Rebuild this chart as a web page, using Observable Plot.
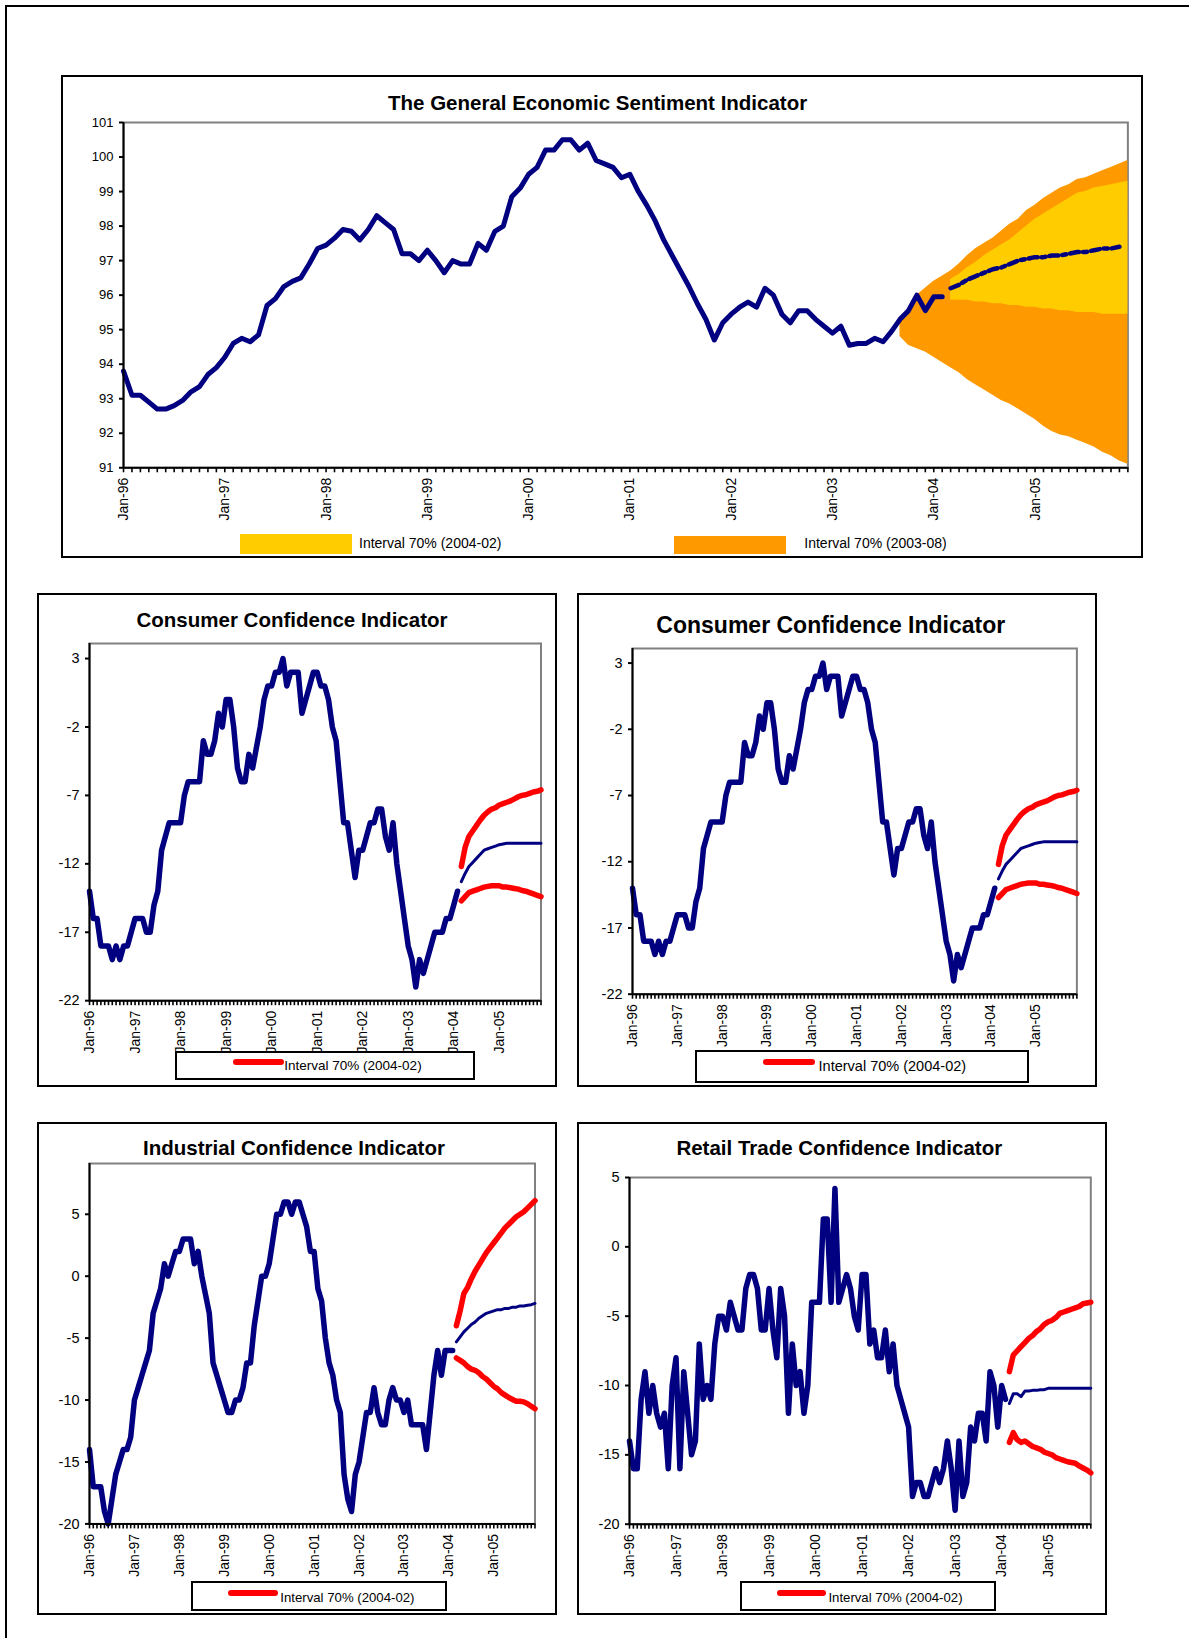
<!DOCTYPE html>
<html><head><meta charset="utf-8">
<script src="https://cdn.jsdelivr.net/npm/d3@7"></script>
<script src="https://cdn.jsdelivr.net/npm/@observablehq/plot@0.6"></script>
<style>
html,body{margin:0;padding:0;background:#fff;}
body{width:1189px;height:1638px;overflow:hidden;position:relative;font-family:"Liberation Sans",Arial,sans-serif;color:#000;}
.box{position:absolute;box-sizing:border-box;border:2px solid #000;background:#fff;}
.title{position:absolute;font-weight:bold;white-space:nowrap;line-height:1;transform:translateX(-50%);}
.lg{position:absolute;white-space:nowrap;line-height:1;}
.sw{position:absolute;}
svg{position:absolute;}
</style></head><body>
<script>
// ---------- categories / tick labels ----------
const yearLabels = ["Jan-96","Jan-97","Jan-98","Jan-99","Jan-00","Jan-01","Jan-02","Jan-03","Jan-04","Jan-05"];
const monthCount = 120;          // Jan-96 .. Dec-05, month index 0..119
const forecastStart = 98;        // Mar-04
const bandAug03Start = 92;       // Sep-03

// ---------- The General Economic Sentiment Indicator ----------
const gesiActual = [
  93.8,93.1,93.1,92.9,92.7,92.7,92.8,92.95,93.2,93.35,93.7,93.9,
  94.2,94.6,94.75,94.65,94.85,95.7,95.9,96.25,96.4,96.5,96.9,97.35,
  97.45,97.65,97.9,97.85,97.6,97.9,98.3,98.1,97.9,97.2,97.2,97.0,
  97.3,97.0,96.65,97.0,96.9,96.9,97.5,97.3,97.85,98.0,98.85,99.1,
  99.5,99.7,100.2,100.2,100.5,100.5,100.2,100.4,99.9,99.8,99.7,99.4,
  99.5,99.0,98.6,98.15,97.6,97.15,96.7,96.25,95.75,95.3,94.7,95.2,
  95.45,95.65,95.8,95.65,96.2,96.0,95.45,95.2,95.55,95.55,95.3,95.1,
  94.9,95.1,94.55,94.6,94.6,94.75,94.65,94.95,95.3,95.55,96.0,95.55,
  95.95,95.95];
const gesiForecast = [96.2,96.3,96.45,96.55,96.65,96.75,96.8,96.9,97.0,97.05,97.1,97.1,97.15,97.15,97.2,97.25,97.25,97.3,97.35,97.35,97.4];
const gesiAug03Upper = [95.3,95.6,96.0,96.2,96.4,96.55,96.7,96.9,97.15,97.35,97.5,97.65,97.85,98.05,98.2,98.45,98.6,98.8,98.95,99.1,99.2,99.35,99.4,99.5,99.6,99.7,99.8,99.9];
const gesiAug03Lower = [94.8,94.55,94.45,94.35,94.2,94.05,93.9,93.75,93.55,93.4,93.25,93.1,92.95,92.85,92.7,92.55,92.4,92.2,92.05,91.95,91.9,91.8,91.7,91.6,91.45,91.35,91.2,91.1];
const gesiFeb04Upper = [96.45,96.6,96.8,96.95,97.15,97.3,97.45,97.6,97.8,98.0,98.2,98.35,98.5,98.65,98.8,98.95,99.0,99.1,99.15,99.2,99.25,99.3];
const gesiFeb04Lower = [95.85,95.85,95.85,95.8,95.8,95.75,95.75,95.7,95.7,95.65,95.65,95.6,95.6,95.55,95.55,95.5,95.5,95.5,95.45,95.45,95.45,95.45];
const gesiTicks = [91,92,93,94,95,96,97,98,99,100,101];

// ---------- Consumer Confidence Indicator ----------
const consumerActual = [
  -14,-16,-16,-18,-18,-18,-19,-18,-19,-18,-18,-17,
  -16,-16,-16,-17,-17,-15,-14,-11,-10,-9,-9,-9,
  -9,-7,-6,-6,-6,-6,-3,-4,-4,-3,-1,-2,
  0,0,-2,-5,-6,-6,-4,-5,-3.5,-2,0,1,
  1,2,2,3,1,2,2,2,-1,0,1,2,
  2,1,1,0,-2,-3,-6,-9,-9,-11,-13,-11,
  -11,-10,-9,-9,-8,-8,-10,-11,-9,-12,-14,-16,
  -18,-19,-21,-19,-20,-19,-18,-17,-17,-17,-16,-16,
  -15,-14];
const consumerForecast = [-13.3,-12.7,-12.2,-11.9,-11.6,-11.3,-11.0,-10.9,-10.8,-10.7,-10.6,-10.55,-10.5,-10.5,-10.5,-10.5,-10.5,-10.5,-10.5,-10.5,-10.5,-10.5];
const consumerUpper = [-12.2,-10.8,-10.0,-9.6,-9.2,-8.8,-8.45,-8.2,-8.0,-7.9,-7.7,-7.6,-7.5,-7.4,-7.25,-7.1,-7.0,-6.95,-6.85,-6.75,-6.7,-6.6];
const consumerLower = [-14.7,-14.4,-14.1,-14.0,-13.9,-13.8,-13.7,-13.65,-13.6,-13.6,-13.6,-13.7,-13.7,-13.75,-13.8,-13.85,-13.95,-14.0,-14.1,-14.2,-14.3,-14.4];
const consumerTicks = [-22,-17,-12,-7,-2,3];

// ---------- Industrial Confidence Indicator ----------
const industrialActual = [
  -14,-17,-17,-17,-19,-20,-18,-16,-15,-14,-14,-13,
  -10,-9,-8,-7,-6,-3,-2,-1,1,0,1,2,
  2,3,3,3,1,2,0,-1.5,-3,-7,-8,-9,
  -10,-11,-11,-10,-10,-9,-7,-7,-4,-2,0,0,
  1,3,5,5,6,6,5,6,6,5,4,2,
  2,-1,-2,-5,-7,-8,-10,-11,-16,-18,-19,-16,
  -15,-13,-11,-11,-9,-11,-12,-12,-10,-9,-10,-10,
  -11,-10,-12,-12,-12,-12,-14,-11,-8,-6,-8,-6,
  -6,-6];
const industrialForecast = [-5.3,-4.9,-4.5,-4.2,-3.9,-3.7,-3.4,-3.2,-3.0,-2.9,-2.8,-2.7,-2.7,-2.6,-2.6,-2.5,-2.5,-2.4,-2.4,-2.35,-2.3,-2.2];
const industrialUpper = [-4.0,-2.8,-1.4,-0.9,-0.2,0.4,0.9,1.4,1.9,2.3,2.7,3.1,3.5,3.9,4.2,4.5,4.8,5.0,5.2,5.5,5.8,6.1];
const industrialLower = [-6.6,-6.8,-7.0,-7.3,-7.5,-7.6,-7.8,-8.1,-8.3,-8.6,-8.9,-9.1,-9.4,-9.6,-9.8,-9.95,-10.1,-10.1,-10.15,-10.3,-10.5,-10.7];
const industrialTicks = [-20,-15,-10,-5,0,5];

// ---------- Retail Trade Confidence Indicator ----------
const retailActual = [
  -14,-16,-16,-11,-9,-12,-10,-12,-13,-12,-16,-10,
  -8,-16,-9,-12,-15,-14,-7,-11,-10,-11,-7,-5,
  -5,-6,-4,-5,-6,-6,-3,-2,-2,-3,-6,-6,
  -3,-6,-8,-3,-5,-12,-7,-10,-9,-12,-10,-4,
  -4,-4,2,2,-4,4.2,-4,-3,-2,-3,-5,-6,
  -2,-2,-7,-6,-8,-8,-6,-9,-7,-10,-11,-12,
  -13,-18,-17,-17,-18,-18,-17,-16,-17,-16,-14,-16,
  -19,-14,-18,-17,-13,-14,-12,-12,-14,-9,-10,-13,
  -10,-11];
const retailForecast = [-11.3,-10.6,-10.6,-10.8,-10.4,-10.4,-10.35,-10.35,-10.3,-10.3,-10.2,-10.2,-10.2,-10.2,-10.2,-10.2,-10.2,-10.2,-10.2,-10.2,-10.2,-10.2];
const retailUpper = [-9.0,-7.8,-7.5,-7.2,-6.9,-6.6,-6.4,-6.1,-5.9,-5.6,-5.4,-5.3,-5.1,-4.8,-4.7,-4.6,-4.5,-4.4,-4.3,-4.1,-4.05,-4.0];
const retailLower = [-14.1,-13.4,-13.9,-14.1,-14.0,-14.2,-14.4,-14.5,-14.6,-14.8,-14.9,-15.0,-15.2,-15.3,-15.4,-15.5,-15.55,-15.6,-15.8,-15.95,-16.1,-16.3];
const retailTicks = [-20,-15,-10,-5,0,5];

// ---------- helpers ----------
const FONT = '"Liberation Sans", Arial, sans-serif';
const NAVY = "#000080", RED = "#ff0000", YELLOW = "#ffcc00", ORANGE = "#ff9900", GRAY = "#808080";
const allMonths = d3.range(0, monthCount);
const yearTicks = yearLabels.map((_, i) => i * 12);

function el(cls, css, text) {
  const d = document.createElement("div");
  d.className = cls;
  Object.assign(d.style, css);
  if (text != null) d.textContent = text;
  document.body.appendChild(d);
  return d;
}
function box(x1, y1, x2, y2) { // line centres
  return el("box", {left: (x1 - 1) + "px", top: (y1 - 1) + "px", width: (x2 - x1 + 2) + "px", height: (y2 - y1 + 2) + "px"});
}
function title(text, cx, baseline, fs) {
  el("title", {left: cx + "px", top: (baseline - 0.8465 * fs) + "px", fontSize: fs + "px"}, text);
}
function legendText(text, x, cy, fs) {
  el("lg", {left: x + "px", top: (cy - 0.55 * fs) + "px", fontSize: fs + "px"}, text);
}
function swatch(x1, x2, y1, y2, color, round) {
  el("sw", {left: x1 + "px", top: y1 + "px", width: (x2 - x1) + "px", height: (y2 - y1) + "px", background: color, borderRadius: round ? "4px" : "0"});
}

function panel({left, top, right, bottom, yDomain, yTicks, yFont, xFont, marks}) {
  const ml = 60, mr = 14, mt = 14, mb = 70;
  const w = right - left, h = bottom - top;
  const svg = Plot.plot({
    width: w + ml + mr, height: h + mt + mb,
    marginLeft: ml, marginRight: mr, marginTop: mt, marginBottom: mb,
    x: {domain: [0, monthCount - 1], axis: null},
    y: {domain: yDomain, axis: null},
    style: {fontFamily: FONT, color: "#000", background: "transparent", overflow: "visible"},
    marks: [
      Plot.frame({stroke: GRAY, strokeWidth: 2}),
      ...marks,
      Plot.ruleX([0], {stroke: "#000", strokeWidth: 2}),
      Plot.ruleY([yDomain[0]], {stroke: "#000", strokeWidth: 2}),
      Plot.axisY({ticks: yTicks, tickSize: 4, tickPadding: 6, strokeWidth: 2, fontSize: yFont, label: null, tickFormat: d => String(d)}),
      Plot.axisX({ticks: allMonths, tickSize: 5, strokeWidth: 1.6, tickFormat: () => "", label: null}),
      Plot.axisX({ticks: yearTicks, tickSize: 0, tickPadding: 10, tickRotate: -90, fontSize: xFont, label: null, tickFormat: d => yearLabels[Math.round(d / 12)]})
    ]
  });
  svg.style.position = "absolute";
  svg.style.left = (left - ml) + "px";
  svg.style.top = (top - mt) + "px";
  document.body.appendChild(svg);
}

function indicatorMarks(actual, forecast, upper, lower) {
  const fx = (d, i) => forecastStart + i;
  return [
    Plot.lineY(upper, {x: fx, y: d => d, stroke: RED, strokeWidth: 5.5, strokeLinecap: "round", strokeLinejoin: "round"}),
    Plot.lineY(lower, {x: fx, y: d => d, stroke: RED, strokeWidth: 5.5, strokeLinecap: "round", strokeLinejoin: "round"}),
    Plot.lineY(actual, {x: (d, i) => i, y: d => d, stroke: NAVY, strokeWidth: 5.5, strokeLinejoin: "round"}),
    Plot.lineY(forecast, {x: fx, y: d => d, stroke: NAVY, strokeWidth: 3, strokeLinejoin: "round"})
  ];
}

// ---------- page ----------
el("box", {left: "5px", top: "4.7px", width: "1400px", height: "1800px", background: "transparent"});

box(62, 76.3, 1142, 557.5);
box(38, 594.3, 556, 1086);
box(578, 594, 1096, 1085.5);
box(38, 1122.5, 556, 1613.7);
box(578.4, 1122.5, 1106.3, 1613.7);

// Top panel
panel({
  left: 123.3, top: 122, right: 1127.7, bottom: 467.3,
  yDomain: [91, 101], yTicks: gesiTicks, yFont: 13, xFont: 14,
  marks: [
    Plot.areaY(gesiAug03Upper, {x: (d, i) => bandAug03Start + i, y1: (d, i) => gesiAug03Lower[i], y2: d => d, fill: ORANGE}),
    Plot.areaY(gesiFeb04Upper, {x: (d, i) => forecastStart + i, y1: (d, i) => gesiFeb04Lower[i], y2: d => d, fill: YELLOW}),
    Plot.lineY(gesiActual, {x: (d, i) => i, y: d => d, stroke: NAVY, strokeWidth: 5, strokeLinejoin: "round"}),
    Plot.lineY(gesiForecast, {x: (d, i) => forecastStart + i, y: d => d, stroke: NAVY, strokeWidth: 4.5, strokeDasharray: "9,4,4,4"})
  ]
});
title("The General Economic Sentiment Indicator", 597.6, 110, 20.5);
swatch(240, 352.3, 533.5, 553.5, YELLOW, false);
legendText("Interval 70% (2004-02)", 359, 543.5, 14);
swatch(674, 785.7, 536, 553.5, ORANGE, false);
legendText("Interval 70% (2003-08)", 804.3, 543.5, 14);

// Consumer (left)
panel({
  left: 88.5, top: 643.3, right: 540, bottom: 1000.5,
  yDomain: [-22, 4.1], yTicks: consumerTicks, yFont: 14.5, xFont: 14,
  marks: indicatorMarks(consumerActual, consumerForecast, consumerUpper, consumerLower)
});
title("Consumer Confidence Indicator", 292, 627, 20.5);
box(175.7, 1051.7, 474, 1079.3);
swatch(233.3, 284.3, 1058.7, 1064.7, RED, true);
legendText("Interval 70% (2004-02)", 284.3, 1066.7, 13.5);

// Consumer (right)
panel({
  left: 632, top: 648.3, right: 1076.4, bottom: 994,
  yDomain: [-22, 4.1], yTicks: consumerTicks, yFont: 14.5, xFont: 14,
  marks: indicatorMarks(consumerActual, consumerForecast, consumerUpper, consumerLower)
});
title("Consumer Confidence Indicator", 830.8, 633.3, 23);
box(696, 1050.7, 1028.3, 1081.7);
swatch(762.8, 815.2, 1058.7, 1064.7, RED, true);
legendText("Interval 70% (2004-02)", 818.6, 1067.3, 14.5);

// Industrial
panel({
  left: 88.5, top: 1163.3, right: 534, bottom: 1523.7,
  yDomain: [-20, 9.1], yTicks: industrialTicks, yFont: 14.5, xFont: 14,
  marks: indicatorMarks(industrialActual, industrialForecast, industrialUpper, industrialLower)
});
title("Industrial Confidence Indicator", 294, 1155.7, 20.5);
box(192.3, 1581.7, 446, 1610);
swatch(227.8, 277.9, 1590.3, 1596.3, RED, true);
legendText("Interval 70% (2004-02)", 280.3, 1598.3, 13.2);

// Retail
panel({
  left: 629, top: 1177, right: 1090.3, bottom: 1523.7,
  yDomain: [-20, 5], yTicks: retailTicks, yFont: 14.5, xFont: 14,
  marks: indicatorMarks(retailActual, retailForecast, retailUpper, retailLower)
});
title("Retail Trade Confidence Indicator", 839.3, 1155.7, 20.5);
box(740.5, 1581.7, 995, 1610);
swatch(776.7, 826, 1590.3, 1596.3, RED, true);
legendText("Interval 70% (2004-02)", 828.4, 1598.3, 13.2);
</script>
</body></html>
